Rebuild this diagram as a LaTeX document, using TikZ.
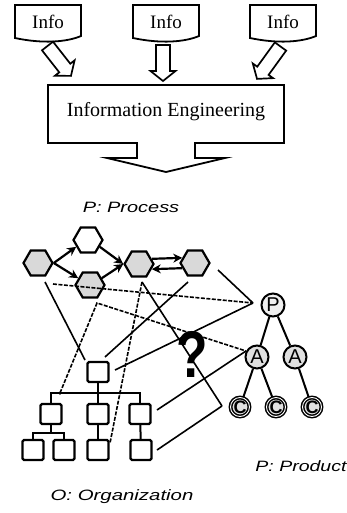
\documentclass[tikz,border=0pt]{standalone}
\usepackage{fontspec}
\setmainfont{Liberation Serif}
\newfontfamily\sansf{Liberation Sans}
\usetikzlibrary{arrows.meta,shapes.geometric,calc}
\begin{document}
\begin{tikzpicture}[x=1pt,y=-1pt,
  outline/.style={draw=black,line width=1.8pt,line join=miter},
  infotext/.style={font=\fontsize{19}{21}\selectfont,inner sep=0pt},
  hollow/.style={draw=black,line width=1.7pt,fill=white,line join=miter},
  hexa/.style={regular polygon,regular polygon sides=6,minimum size=29pt,inner sep=0pt,draw=black,line width=2.2pt,fill=black!15},
  flow/.style={line width=2.2pt,-{Stealth[length=9pt,width=9pt]}},
  circ/.style={circle,draw=black,line width=2pt,fill=black!12,minimum size=23pt,inner sep=0pt,font=\sansf\fontsize{20}{20}\selectfont},
  dcirc/.style={circ,line width=1.5pt,double=white,double distance=0.9pt,minimum size=19pt,font=\sansf\bfseries\fontsize{18}{18}\selectfont},
  sq/.style={rectangle,draw=black,line width=2.2pt,rounded corners=1.5pt,minimum width=21pt,minimum height=20pt,inner sep=0pt},
  tree/.style={line width=2pt},
  link/.style={line width=1.6pt},
  dlink/.style={line width=1.6pt,dash pattern=on 4pt off 1.5pt},
  lbl/.style={font=\sansf\itshape\fontsize{15}{15}\selectfont,inner sep=0pt},
  jdot/.style={circle,fill=black,inner sep=0pt,minimum size=3.5pt}
]
\useasboundingbox (0,0) rectangle (347,513);

% Info boxes
\foreach \x/\n in {15/info1,133/info2,250/info3}{
  \draw[outline] (\x,5) -- (\x+66,5) -- (\x+66,36) .. controls (\x+52,42) and (\x+28,44) .. (\x,38) -- cycle;
  \node[infotext] (\n) at (\x+33,21.5) {Info};
}

% hollow arrows
\foreach \sx/\sy/\ang/\L in {47.5/46/-51.9/38, 163/45/-90/36, 280.5/46.5/-125.9/40}{
  \draw[hollow,shift={(\sx,\sy)},rotate=\ang] (0,-7) -- (\L-10,-7) -- (\L-10,-12.5) -- (\L,0) -- (\L-10,12.5) -- (\L-10,7) -- (0,7) -- cycle;
}

% Information Engineering box with big arrow
\draw[outline] (48,85) -- (284,85) -- (284,143) -- (195,143) -- (195,158) -- (225,158) -- (166,172) -- (107,158) -- (137,158) -- (137,143) -- (48,143) -- cycle;
\node[font=\fontsize{20}{22}\selectfont,inner sep=0pt] (ie) at (166,112) {Information Engineering};

% labels
\node[lbl] (proc) at (131,207) {\scalebox{1.33}[1]{P: Process}};
\node[lbl] (prod) at (301,466) {\scalebox{1.3}[1]{P: Product}};
\node[lbl] (org) at (122,497) {\scalebox{1.36}[1]{O: Organization}};

% process hexagons
\node[hexa] (h1) at (38,263) {};
\node[hexa,fill=white] (h2) at (88,240) {};
\node[hexa] (h3) at (90,285) {};
\node[hexa] (h4) at (139,264) {};
\node[hexa] (h5) at (195,263) {};
\draw[flow] (h1.east) -- (h2.210);
\draw[flow] (h1.east) -- (h3.150);
\draw[flow] (h2.330) -- (h4.west);
\draw[flow] (h3.30) -- (h4.west);
\draw[flow] (h4.22) -- (h5.158);
\draw[flow] (h5.202) -- (h4.338);

% product tree
\node[circ,fill=black!6] (P) at (273,305) {P};
\node[circ] (A1) at (257,357) {A};
\node[circ] (A2) at (295,357) {A};
\node[dcirc] (C1) at (240,407) {C};
\node[dcirc] (C2) at (276,407) {C};
\node[dcirc] (C3) at (312,407) {C};
\draw[tree] (P) -- (A1);
\draw[tree] (P) -- (A2);
\draw[tree] (A1) -- (C1);
\draw[tree] (A1) -- (C2);
\draw[tree] (A2) -- (C3);

% organization tree
\node[sq] (R) at (98,372) {};
\node[sq] (L1) at (51,414) {};
\node[sq] (L2) at (98,414) {};
\node[sq] (L3) at (140,414) {};
\node[sq] (M1) at (33,450) {};
\node[sq] (M2) at (64,450) {};
\node[sq] (M3) at (98,450) {};
\node[sq] (M4) at (141,450) {};
\coordinate (b1) at (98,393);
\coordinate (b2) at (51,433);
\draw[tree] (R.south) -- (b1);
\draw[tree] (L1.north) |- (b1) -| (L3.north);
\draw[tree] (b1) -- (L2.north);
\draw[tree] (L1.south) -- (b2);
\draw[tree] (M1.north) |- (b2) -| (M2.north);
\draw[tree] (L2) -- (M3);
\draw[tree] (L3) -- (M4);

% connection hubs and ends
\coordinate (pin) at (253,303);
\coordinate (ain) at (246,351);
\coordinate (cin) at (222,406);
\coordinate (v4) at (97,303);
\coordinate (v5) at (142,282);
\coordinate (h1a) at (45,282);
\coordinate (h1b) at (53,284);
\coordinate (h5a) at (218,270);
\coordinate (h5b) at (188,282);
\coordinate (Rnw) at (85,360);
\coordinate (Rne) at (105,357);
\coordinate (Re) at (115,370);
\coordinate (bus1) at (60,393);
\coordinate (M3ne) at (110,443);
\coordinate (L3e) at (157,410);
\coordinate (M4e) at (157,450);

\draw[link] (h1a) -- (Rnw);
\draw[dlink] (h1b) -- (pin);
\draw[link] (h5a) -- (pin);
\draw[link] (pin) -- (Re);
\draw[dlink] (bus1) -- (v4) -- (ain);
\draw[dlink] (v5) -- (M3ne);
\draw[link] (v5) -- (cin);
\draw[link] (h5b) -- (Rne);
\draw[link] (ain) -- (L3e);
\draw[link] (M4e) -- (cin);
\node[jdot] (d1) at (bus1) {};
\node[jdot] (d2) at (b1) {};
\node[jdot] (d3) at ($(v5)!0.689!(M3ne)$) {};

% question mark
\node[inner sep=0pt] (q) at (192,354) {\sansf\bfseries\fontsize{66}{66}\selectfont\scalebox{0.78}[1]{?}};
\end{tikzpicture}
\end{document}
